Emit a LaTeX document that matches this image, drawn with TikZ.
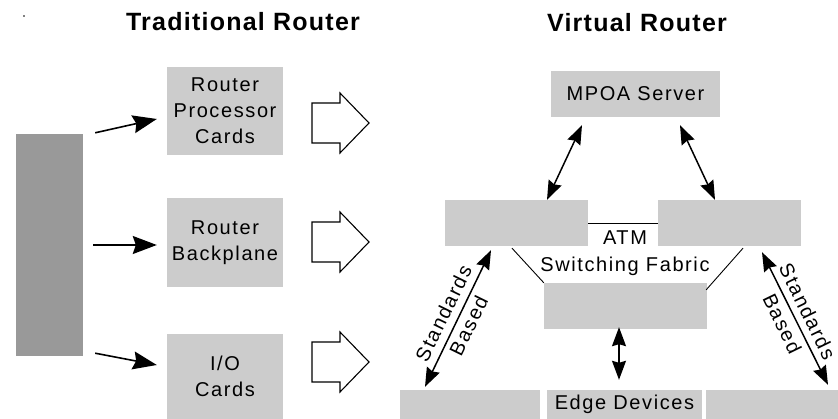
\documentclass[tikz,border=0pt]{standalone}
\usepackage{fontspec}
\setmainfont{Liberation Sans}
\newfontfamily\boxfont[LetterSpace=8]{Liberation Sans}
\newfontfamily\titlefont[LetterSpace=5]{Liberation Sans}
\usetikzlibrary{calc,arrows.meta}
\definecolor{boxgray}{HTML}{CCCCCC}
\definecolor{darkbar}{HTML}{999999}
\begin{document}
\begin{tikzpicture}[x=1pt,y=-1pt,
  box/.style={fill=boxgray, inner sep=0pt, align=center,
    font=\boxfont\fontsize{20}{26}\selectfont},
  titletext/.style={inner sep=0pt, font=\titlefont\bfseries\fontsize{25}{28}\selectfont},
  plaintext/.style={inner sep=0pt, align=center, font=\boxfont\fontsize{20}{27}\selectfont},
  lbl/.style={inner sep=0pt, align=center, font=\boxfont\fontsize{20}{28}\selectfont},
  bigarr/.style={line width=1.6pt, -{Stealth[length=24pt,width=18pt,inset=3pt]}},
  dblarr/.style={line width=1.5pt, {Stealth[length=19pt,width=14pt,inset=2pt]}-{Stealth[length=19pt,width=14pt,inset=2pt]}},
  thin/.style={line width=0.9pt},
  hollow/.style={draw=black, fill=white, line width=1.1pt}]
\useasboundingbox (0,0) rectangle (838,419);

% stray dot
\fill (24,16) circle (0.8);

% titles
\node[titletext] (t1) at (243,22) {Traditional Router};
\node[titletext] (t2) at (637,23) {Virtual Router};

% traditional router
\node[fill=darkbar, inner sep=0pt, minimum width=67pt, minimum height=222pt] (dark) at (49.5,245) {};
\node[box, minimum width=116pt, minimum height=88pt] (rpc) at (225,111) {Router\\Processor\\Cards};
\node[box, minimum width=116pt, minimum height=89pt] (rbp) at (225,242.5) {Router\\Backplane};
\node[box, minimum width=116pt, minimum height=85pt] (io) at (225,376.5) {I/O\\Cards};

\draw[bigarr] ($(dark.north east)+(12,-1)$) -- ($(rpc.west)+(-10,8)$);
\draw[bigarr] ($(dark.east)+(10,0)$) -- ($(rbp.west)+(-10,2.5)$);
\draw[bigarr] ($(dark.south east)+(12,-3)$) -- ($(io.west)+(-10,-11.5)$);

% hollow arrows
\foreach \ym in {123,242,362}{
  \draw[hollow] (312,\ym-20) -- (340,\ym-20) -- (340,\ym-30) -- (369,\ym)
    -- (340,\ym+30) -- (340,\ym+20) -- (312,\ym+20) -- cycle;
}

% virtual router
\node[box, minimum width=169pt, minimum height=46pt] (mpoa) at (635.5,94) {MPOA Server};
\node[box, minimum width=143pt, minimum height=46pt] (ul) at (516.5,223) {};
\node[box, minimum width=143pt, minimum height=46pt] (ur) at (729.5,223) {};
\node[box, minimum width=163pt, minimum height=46pt] (cb) at (625.5,306) {};
\node[box, minimum width=140pt, minimum height=29pt] (bl) at (470,404.5) {};
\node[box, minimum width=155pt, minimum height=29pt] (ed) at (624.5,404.5) {Edge Devices};
\node[box, minimum width=132pt, minimum height=29pt] (br) at (772,404.5) {};

\node[plaintext] (atm) at (625,253) {ATM\\Switching Fabric};

\draw[thin] (ul.east) -- (ur.west);
\draw[thin] ($(ul.south)+(-4.5,2)$) -- (cb.north west);
\draw[thin] ($(ur.south)+(13.5,2)$) -- ($(cb.north east)+(-1,7)$);

\draw[dblarr] ($(mpoa.south)+(-53.5,8)$) -- ($(ul.north)+(30.5,0)$);
\draw[dblarr] ($(mpoa.south)+(44.5,8)$) -- ($(ur.north)+(-14.5,0)$);
\draw[dblarr] ($(cb.south)+(-6.5,-2)$) -- ($(ed.north)+(-5.5,-10)$);

\coordinate (sla) at ($(ul.south)+(-25.5,4)$);
\coordinate (slb) at ($(bl.north)+(-45,-3)$);
\coordinate (sra) at ($(ur.south)+(32.5,6)$);
\coordinate (srb) at ($(br.north)+(56,-5)$);
\draw[dblarr] (sla) -- (slb);
\draw[dblarr] (sra) -- (srb);
\node[lbl, rotate=64] (lblL) at ($(sla)!0.5!(slb)+(-2,1)$) {Standards\\Based};
\node[lbl, rotate=-64] (lblR) at ($(sra)!0.5!(srb)+(0,-1)$) {Standards\\Based};
\end{tikzpicture}
\end{document}
